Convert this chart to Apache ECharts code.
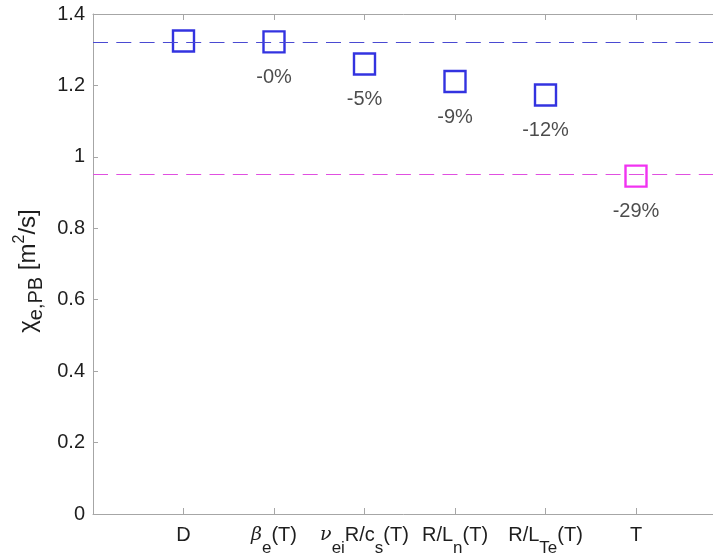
<!DOCTYPE html>
<html>
<head>
<meta charset="utf-8">
<script src="https://cdn.jsdelivr.net/npm/echarts@6/dist/echarts.min.js"></script>
<style>html,body{margin:0;padding:0;background:#fff}#c{width:713px;height:554px}</style>
</head>
<body>
<div id="c"></div>
<script>
// categories (x positions 1..6)
var categories = ['D', '{g|β}{s|e}(T)', '{g|ν}{s|ei}R/c{s|s}(T)', 'R/L{s|n}(T)', 'R/L{s|Te}(T)', 'T'];
// chi_e,PB values
var blueValues = [1.3245, 1.322, 1.260, 1.211, 1.173];
var magentaValues = [0.946];
// percentage labels under markers
var pctLabels = ['', '-0%', '-5%', '-9%', '-12%', '-29%'];
// y ticks
var yTicks = [0, 0.2, 0.4, 0.6, 0.8, 1, 1.2, 1.4];
var refBlue = blueValues[0];
var refMagenta = magentaValues[0];

var txt = '#1e1e1e';
var axisCol = '#a6a6a6';
var font = 'Liberation Sans, Arial, Helvetica, sans-serif';

var blueData = blueValues.map(function (v, i) {
  return { value: [i + 1, v], label: { show: pctLabels[i] !== '', formatter: pctLabels[i] } };
});
var magData = magentaValues.map(function (v, i) {
  var idx = blueValues.length + i;
  return { value: [idx + 1, v], label: { show: true, formatter: pctLabels[idx] } };
});

var subRich = {
  g: { fontSize: 19, fontFamily: 'DejaVu Serif, serif', fontStyle: 'italic', color: txt, lineHeight: 19 },
  s: { fontSize: 17, color: txt, lineHeight: 17, padding: [26, 0, 0, 0], fontFamily: font }
};

var labelStyle = {
  show: true, position: 'bottom', distance: 14,
  color: txt, fontSize: 20, fontFamily: font
};

var chart = echarts.init(document.getElementById('c'), null, { renderer: 'canvas' });
chart.setOption({
  animation: false,
  backgroundColor: '#fff',
  grid: { left: 93, right: -13.5, top: 14, bottom: 40, containLabel: false, outerBoundsMode: 'none' },
  xAxis: [{
    type: 'value', min: 0, max: 7, interval: 1, position: 'bottom',
    axisLine: { show: true, lineStyle: { color: axisCol, width: 1 } },
    axisTick: { show: true, inside: true, length: 6, lineStyle: { color: axisCol } },
    splitLine: { show: false },
    axisLabel: {
      margin: -1, color: txt, fontSize: 20, fontFamily: font, lineHeight: 44,
      rich: subRich,
      formatter: function (v) { return categories[v - 1] || ''; }
    }
  }, {
    type: 'value', min: 0, max: 7, interval: 1, position: 'top',
    axisLine: { show: true, lineStyle: { color: axisCol, width: 1 } },
    axisTick: { show: true, inside: true, length: 6, lineStyle: { color: axisCol } },
    axisLabel: { show: false }, splitLine: { show: false }
  }],
  yAxis: {
    type: 'value', min: yTicks[0], max: yTicks[yTicks.length - 1], interval: 0.2,
    axisLine: { show: true, lineStyle: { color: axisCol, width: 1 } },
    axisTick: { show: true, inside: true, length: 5, lineStyle: { color: axisCol } },
    splitLine: { show: false },
    axisLabel: { margin: 8, color: txt, fontSize: 20, fontFamily: font },
    name: 'χ{s|e,PB} [m{p|2}/s]',
    nameLocation: 'middle', nameRotate: 90, nameGap: 47,
    nameTextStyle: {
      color: txt, fontSize: 24, fontFamily: font, lineHeight: 36, padding: [0, 14, 0, 0],
      rich: {
        s: { fontSize: 20, lineHeight: 20, padding: [16, 0, 0, 0], color: txt, fontFamily: font },
        p: { fontSize: 16, lineHeight: 16, padding: [0, 0, 16, 0], color: txt, fontFamily: font }
      }
    }
  },
  series: [{
    type: 'scatter', symbol: 'rect', symbolSize: 21,
    itemStyle: { color: 'rgba(255,255,255,0)', borderColor: '#0000d8', borderWidth: 2.4 },
    label: labelStyle,
    data: blueData,
    markLine: {
      silent: true, symbol: 'none', label: { show: false },
      lineStyle: { color: '#4a4ad2', width: 1, type: [15, 8.3] },
      data: [{ yAxis: refBlue }]
    },
    z: 3
  }, {
    type: 'scatter', symbol: 'rect', symbolSize: 21,
    itemStyle: { color: 'rgba(255,255,255,0)', borderColor: '#ee00ee', borderWidth: 2.4 },
    label: labelStyle,
    data: magData,
    markLine: {
      silent: true, symbol: 'none', label: { show: false },
      lineStyle: { color: '#e050e0', width: 1, type: [15, 8.3] },
      data: [{ yAxis: refMagenta }]
    },
    z: 3
  }]
});
</script>
</body>
</html>
